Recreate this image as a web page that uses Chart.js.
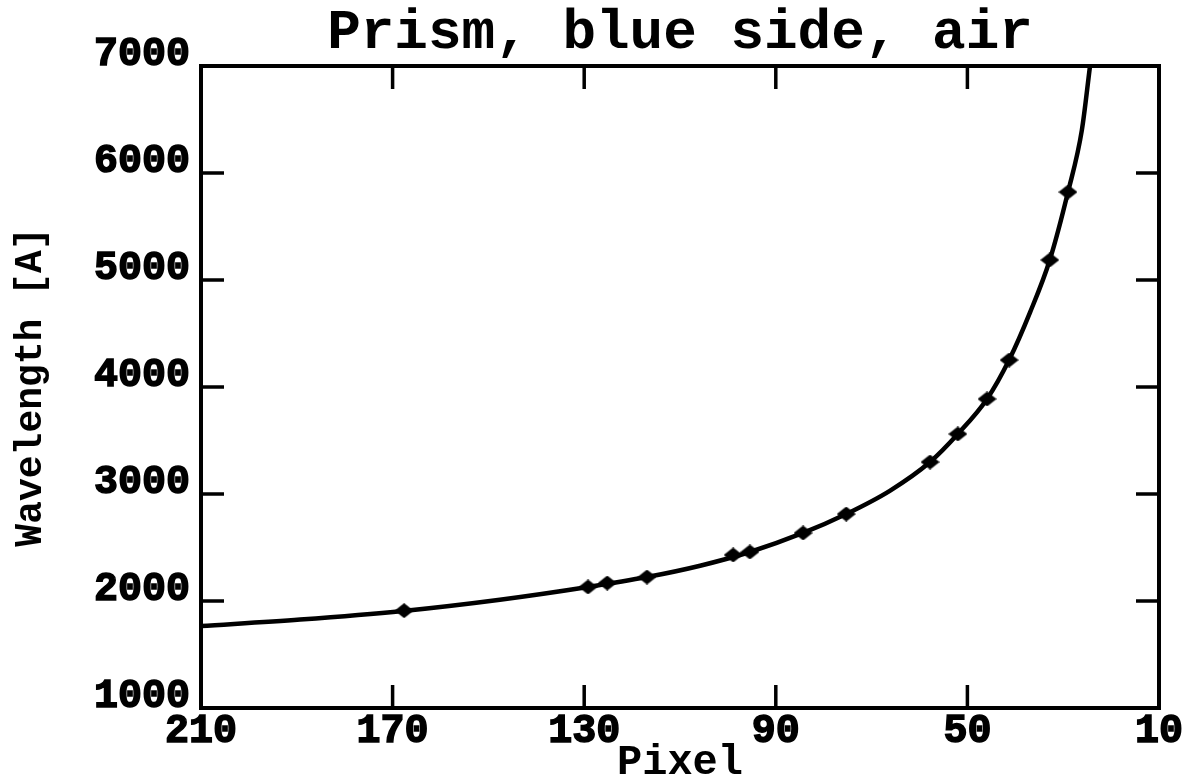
<!DOCTYPE html>
<html>
<head>
<meta charset="utf-8">
<script src="https://cdn.jsdelivr.net/npm/chart.js@4.4.0/dist/chart.umd.min.js"></script>
<style>
  html, body { margin: 0; padding: 0; background: #fff; }
  #wrap { width: 1185px; height: 782px; }
</style>
</head>
<body>
<div id="wrap"><canvas id="c" width="1185" height="782"></canvas></div>
<script>
// Labels
const chartTitle = 'Prism, blue side, air';
const xTitle = 'Pixel';
const yTitle = 'Wavelength [A]';

// Axis ticks
const xTickValues = [210, 170, 130, 90, 50, 10];
const yTickValues = [1000, 2000, 3000, 4000, 5000, 6000, 7000];

// Dispersion curve (pixel -> wavelength)
const curvePixels      = [210,  189.3, 167.8, 147.6, 129.2, 116.9, 105.8, 95.4, 84.3, 75.3, 66.2, 57.8, 52.0, 45.9, 41.3, 36.9, 32.8, 29.0, 26.1, 24.4];
const curveWavelengths = [1766, 1826,  1907,  2012,  2131,  2224,  2330,  2458, 2636, 2813, 3030, 3299, 3561, 3888, 4252, 4700, 5187, 5822, 6402, 7000];

// Measured calibration lines
const linePixels      = [167.6, 129.2, 125.2, 116.9, 98.9, 95.4, 84.3, 75.3, 57.8, 52.0, 45.9, 41.3, 32.8, 29.0];
const lineWavelengths = [1910,  2131,  2168,  2224,  2430, 2458, 2636, 2813, 3299, 3561, 3888, 4252, 5187, 5822];

const toXY = (xs, ys) => xs.map((x, i) => ({ x, y: ys[i] }));

// flattened diamond marker
const diamond = (() => {
  const c = document.createElement('canvas');
  c.width = 19; c.height = 15;
  const g = c.getContext('2d');
  g.fillStyle = '#000';
  g.beginPath();
  g.moveTo(9.5, 0); g.lineTo(19, 7.5); g.lineTo(9.5, 15); g.lineTo(0, 7.5);
  g.closePath(); g.fill();
  return c;
})();

const PLOT = { left: 201, right: 1159, top: 66, bottom: 708 };
const TICK_LEN = 23;
const monoBold = (size) => ({ family: '"Liberation Mono", "DejaVu Sans Mono", monospace', size, weight: 'bold', lineHeight: 1 });

// frame with inward ticks on all four sides
const framePlugin = {
  id: 'frame',
  afterDatasetsDraw(chart) {
    const { ctx, chartArea: a, scales: { x, y } } = chart;
    ctx.save();
    ctx.strokeStyle = '#000';
    ctx.lineWidth = 4;
    ctx.strokeRect(a.left, a.top, a.right - a.left, a.bottom - a.top);
    ctx.lineWidth = 3.5;
    ctx.beginPath();
    x.ticks.forEach(t => {
      if (t.value === x.min || t.value === x.max) return;
      const px = x.getPixelForValue(t.value);
      ctx.moveTo(px, a.bottom); ctx.lineTo(px, a.bottom - TICK_LEN);
      ctx.moveTo(px, a.top); ctx.lineTo(px, a.top + TICK_LEN);
    });
    y.ticks.forEach(t => {
      if (t.value === y.min || t.value === y.max) return;
      const py = y.getPixelForValue(t.value);
      ctx.moveTo(a.left, py); ctx.lineTo(a.left + TICK_LEN, py);
      ctx.moveTo(a.right, py); ctx.lineTo(a.right - TICK_LEN, py);
    });
    ctx.stroke();
    ctx.restore();
  }
};

new Chart(document.getElementById('c'), {
  type: 'scatter',
  data: {
    datasets: [
      {
        data: toXY(curvePixels, curveWavelengths),
        showLine: true,
        borderColor: '#000',
        borderWidth: 4.5,
        pointRadius: 0,
        cubicInterpolationMode: 'monotone',
        order: 2
      },
      {
        data: toXY(linePixels, lineWavelengths),
        showLine: false,
        pointStyle: diamond,
        pointRadius: 8,
        backgroundColor: '#000',
        borderColor: '#000',
        order: 1
      }
    ]
  },
  options: {
    responsive: false,
    animation: false,
    events: [],
    layout: { padding: { left: 0, right: 1185 - PLOT.right, top: 0, bottom: 0 } },
    plugins: {
      legend: { display: false },
      tooltip: { enabled: false },
      title: {
        display: true,
        text: chartTitle,
        fullSize: false,
        color: '#000',
        font: { family: '"Liberation Mono", "DejaVu Sans Mono", monospace', size: 56, weight: 'bold', lineHeight: 1 },
        padding: { top: 6, bottom: 4 }
      }
    },
    scales: {
      x: {
        type: 'linear',
        reverse: true,
        min: 10,
        max: 210,
        afterBuildTicks: s => { s.ticks = xTickValues.map(v => ({ value: v })); },
        afterFit: s => { s.height = 782 - PLOT.bottom; s.paddingLeft = 0; s.paddingRight = 0; },
        grid: { display: false, drawTicks: false },
        border: { display: false },
        ticks: {
          color: '#000',
          font: monoBold(40),
          textStrokeColor: '#000',
          textStrokeWidth: 1.5,
          padding: 4,
          maxRotation: 0,
          autoSkip: false,
          callback: v => String(v)
        },
        title: {
          display: true,
          text: xTitle,
          color: '#000',
          font: monoBold(42),
          padding: { top: 0, bottom: -2 }
        }
      },
      y: {
        type: 'linear',
        min: 1000,
        max: 7000,
        afterBuildTicks: s => { s.ticks = yTickValues.map(v => ({ value: v })); },
        afterFit: s => { s.width = PLOT.left; s.paddingTop = 0; s.paddingBottom = 0; },
        grid: { display: false, drawTicks: false },
        border: { display: false },
        ticks: {
          color: '#000',
          font: monoBold(40),
          textStrokeColor: '#000',
          textStrokeWidth: 1.5,
          padding: 11,
          labelOffset: -11,
          autoSkip: false,
          callback: v => String(v)
        },
        title: {
          display: true,
          text: yTitle,
          color: '#000',
          font: monoBold(38),
          padding: { top: 12, bottom: 0 }
        }
      }
    }
  },
  plugins: [framePlugin]
});
</script>
</body>
</html>
